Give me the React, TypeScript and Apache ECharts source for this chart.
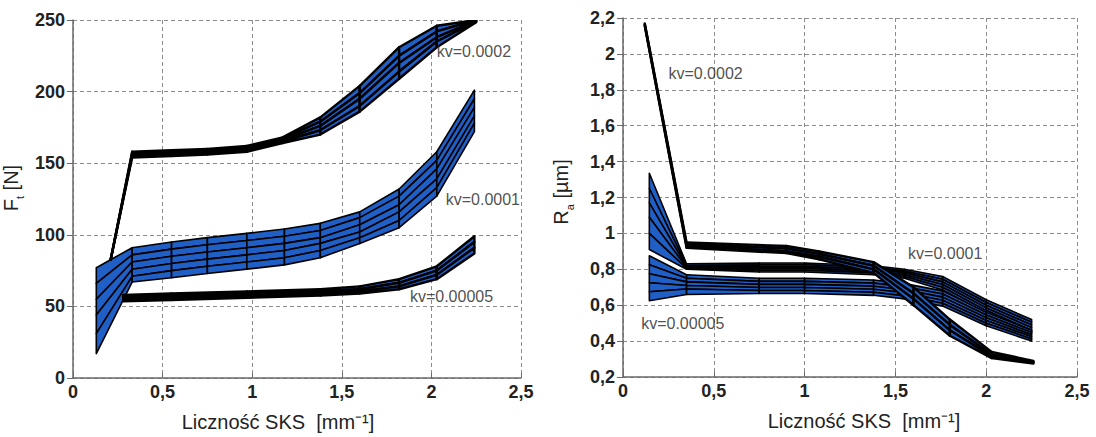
import React, { useEffect, useRef } from "react";
import * as echarts from "echarts";

// ---------- Left chart: F_t [N] vs Liczność SKS ----------
// kv = 0.0002 (left)
const lKv2X = [0.21, 0.33, 0.55, 0.75, 0.97, 1.17, 1.38, 1.6, 1.82, 2.03, 2.25];
const lKv2A = [82.5, 158, 159, 160, 162, 168, 182, 204, 231, 246, 250];
const lKv2B = [82.5, 157, 158, 159, 161, 167, 179, 199, 225, 242, 250];
const lKv2C = [82.5, 156, 157, 158, 160, 166, 176, 195, 220, 238, 249.5];
const lKv2D = [82.5, 155, 156, 157, 159, 165, 173, 190, 214, 235, 249];
const lKv2E = [82.5, 154, 155, 156, 158, 164, 170, 186, 209, 231, 248.5];

// kv = 0.0001 (left)
const lKv1X = [0.13, 0.33, 0.55, 0.75, 0.97, 1.18, 1.38, 1.6, 1.82, 2.03, 2.24];
const lKv1L1 = [77, 91, 95, 98, 101, 104, 108, 116, 132, 158, 201];
const lKv1L2 = [66, 86, 90, 93, 96, 99, 103, 112, 127, 152, 195];
const lKv1L3 = [55, 81, 85, 88, 91, 94, 98, 107, 121, 146, 189];
const lKv1L4 = [44, 76, 80, 83, 86, 89, 94, 102, 116, 139, 183];
const lKv1L5 = [31, 71, 75, 78, 81, 84, 89, 98, 110, 133, 178];
const lKv1L6 = [17, 67, 70, 73, 76, 79, 84, 94, 105, 127, 172];

// kv = 0.00005 (left)
const lKv5X = [0.28, 0.55, 0.97, 1.38, 1.6, 1.82, 2.03, 2.24];
const lKv5A = [58, 59, 60.5, 62, 64, 69, 78, 99];
const lKv5B = [56.5, 57.5, 59, 60.5, 62, 66.5, 75, 95];
const lKv5C = [55, 56, 57.5, 59, 60.5, 64, 72, 91];
const lKv5D = [53.5, 54.5, 56, 57.5, 59, 62, 69, 87];

// ---------- Right chart: R_a [µm] vs Liczność SKS ----------
// kv = 0.0002 (right)
const rKv2X = [0.12, 0.35, 0.9, 1.08, 1.38, 1.6, 1.8, 2.03, 2.26];
const rKv2A = [2.17, 0.95, 0.93, 0.9, 0.84, 0.7, 0.52, 0.34, 0.29];
const rKv2B = [2.165, 0.94, 0.915, 0.885, 0.82, 0.665, 0.49, 0.325, 0.285];
const rKv2C = [2.16, 0.93, 0.9, 0.87, 0.8, 0.635, 0.46, 0.315, 0.28];
const rKv2D = [2.155, 0.92, 0.89, 0.855, 0.78, 0.6, 0.43, 0.305, 0.275];

// kv = 0.0001 (right)
const rKv1X = [0.145, 0.35, 0.75, 1.0, 1.38, 1.55, 1.76, 2.0, 2.25];
const rKv1L1 = [1.335, 0.83, 0.835, 0.835, 0.82, 0.8, 0.76, 0.63, 0.52];
const rKv1L2 = [1.25, 0.82, 0.825, 0.825, 0.81, 0.79, 0.745, 0.615, 0.505];
const rKv1L3 = [1.17, 0.815, 0.815, 0.815, 0.8, 0.78, 0.73, 0.6, 0.49];
const rKv1L4 = [1.09, 0.81, 0.805, 0.805, 0.79, 0.77, 0.715, 0.585, 0.475];
const rKv1L5 = [1.0, 0.805, 0.795, 0.795, 0.78, 0.76, 0.7, 0.57, 0.46];
const rKv1L6 = [0.91, 0.8, 0.785, 0.785, 0.77, 0.75, 0.685, 0.555, 0.445];

// kv = 0.00005 (right)
const rKv5X = [0.145, 0.35, 0.75, 1.0, 1.38, 1.55, 1.76, 2.0, 2.25];
const rKv5L1 = [0.875, 0.77, 0.75, 0.75, 0.74, 0.72, 0.68, 0.56, 0.46];
const rKv5L2 = [0.825, 0.75, 0.733, 0.733, 0.723, 0.703, 0.662, 0.545, 0.448];
const rKv5L3 = [0.775, 0.73, 0.716, 0.716, 0.706, 0.686, 0.645, 0.53, 0.436];
const rKv5L4 = [0.725, 0.71, 0.699, 0.699, 0.689, 0.669, 0.628, 0.515, 0.424];
const rKv5L5 = [0.675, 0.69, 0.682, 0.682, 0.672, 0.652, 0.611, 0.5, 0.412];
const rKv5L6 = [0.625, 0.66, 0.665, 0.665, 0.655, 0.635, 0.595, 0.485, 0.4];

// Band labels [x, y, text]
const leftLabels: [number, number, string][] = [
  [2.03, 228, "kv=0.0002"],
  [2.08, 125, "kv=0.0001"],
  [1.88, 57, "kv=0.00005"],
];
const rightLabels: [number, number, string][] = [
  [0.25, 1.89, "kv=0.0002"],
  [1.57, 0.89, "kv=0.0001"],
  [0.1, 0.5, "kv=0.00005"],
];

const BLUE = "#1f5fc6";
const FONT = "'Liberation Sans', Arial, sans-serif";
const TXT = "#222222";

function cells(xs: number[], lines: number[][]) {
  const rows: number[][] = [];
  for (let j = 0; j < lines.length - 1; j++) {
    const up = lines[j];
    const lo = lines[j + 1];
    for (let i = 0; i < xs.length - 1; i++) {
      rows.push([xs[i], xs[i + 1], up[i], up[i + 1], lo[i + 1], lo[i]]);
    }
  }
  return rows;
}

function makeRender(strokeWidth: number) {
  return function renderCell(_params: any, api: any) {
    const x0 = api.value(0);
    const x1 = api.value(1);
    const pts = [
      api.coord([x0, api.value(2)]),
      api.coord([x1, api.value(3)]),
      api.coord([x1, api.value(4)]),
      api.coord([x0, api.value(5)]),
    ];
    return {
      type: "polygon",
      shape: { points: pts },
      style: { fill: BLUE, stroke: "#000", lineWidth: strokeWidth, lineJoin: "round" },
    };
  };
}

function band(xs: number[], lines: number[][], axis: number, strokeWidth: number) {
  return {
    type: "custom",
    xAxisIndex: axis,
    yAxisIndex: axis,
    renderItem: makeRender(strokeWidth),
    data: cells(xs, lines),
    encode: { x: [0, 1], y: [2, 3, 4, 5] },
    clip: true,
    silent: true,
  };
}

function labelSeries(items: [number, number, string][], axis: number) {
  return {
    type: "scatter",
    xAxisIndex: axis,
    yAxisIndex: axis,
    symbolSize: 0,
    silent: true,
    data: items.map((d) => ({ value: [d[0], d[1]], name: d[2] })),
    label: {
      show: true,
      position: "right",
      distance: 0,
      formatter: (p: any) => p.name,
      fontFamily: FONT,
      fontSize: 16,
      color: TXT,
    },
  };
}

const fmt = (v: number) => String(Number(v.toFixed(2))).replace(".", ",");

function xAxisDef(idx: number, padding: number[]) {
  return {
    type: "value",
    gridIndex: idx,
    min: 0,
    max: 2.5,
    interval: 0.5,
    name: "Liczność SKS  [mm⁻¹]",
    nameLocation: "middle",
    nameGap: 34,
    nameTextStyle: { fontFamily: FONT, fontSize: 20, color: TXT, padding },
    axisLine: { show: true, onZero: false, lineStyle: { color: "#6a6a6a", width: 1.5 } },
    axisTick: { show: true, inside: true, length: 5, lineStyle: { color: "#6a6a6a" } },
    axisLabel: { formatter: fmt, fontFamily: FONT, fontSize: 18, fontWeight: "bold", color: TXT, margin: 5 },
    splitLine: { show: true, lineStyle: { color: "#8c8c8c", type: [4, 3], width: 1 } },
  };
}

function yAxisDef(idx: number, min: number, max: number, interval: number, name: string, padding: number[]) {
  return {
    type: "value",
    gridIndex: idx,
    min,
    max,
    interval,
    name,
    nameLocation: "middle",
    nameGap: 48,
    nameTextStyle: {
      fontFamily: FONT,
      fontSize: 20,
      color: TXT,
      padding,
      rich: {
        m: { fontFamily: FONT, fontSize: 20, color: TXT },
        s: { fontFamily: FONT, fontSize: 11, color: TXT, verticalAlign: "bottom", lineHeight: 28 },
      },
    },
    axisLine: { show: true, onZero: false, lineStyle: { color: "#6a6a6a", width: 1.5 } },
    axisTick: { show: true, inside: false, length: 6, lineStyle: { color: "#6a6a6a" } },
    axisLabel: { formatter: fmt, fontFamily: FONT, fontSize: 18, fontWeight: "bold", color: TXT, margin: 8 },
    splitLine: { show: true, lineStyle: { color: "#8c8c8c", type: [4, 3], width: 1 } },
  };
}

export default function App() {
  const ref = useRef<HTMLDivElement>(null);
  useEffect(() => {
    if (!ref.current) return;
    const chart = echarts.init(ref.current, null, { renderer: "svg" });
    chart.setOption({
      animation: false,
      backgroundColor: "#ffffff",
      grid: [
        { left: 73, right: 575, top: 20, bottom: 59, containLabel: false },
        { left: 623, right: 19, top: 18, bottom: 60, containLabel: false },
      ],
      xAxis: [xAxisDef(0, [0, 38, 0, 0]), xAxisDef(1, [0, 0, 0, 28])],
      yAxis: [
        yAxisDef(0, 0, 250, 50, "{m|F}{s|t}{m| [N]}", [0, 0, 0, 22]),
        yAxisDef(1, 0.2, 2.2, 0.2, "{m|R}{s|a}{m| [µm]}", [0, 0, 0, 11]),
      ],
      series: [
        band(lKv1X, [lKv1L1, lKv1L2, lKv1L3, lKv1L4, lKv1L5, lKv1L6], 0, 1.6),
        band(lKv5X, [lKv5A, lKv5B, lKv5C, lKv5D], 0, 2.4),
        band(lKv2X, [lKv2A, lKv2B, lKv2C, lKv2D, lKv2E], 0, 2.4),
        labelSeries(leftLabels, 0),
        band(rKv1X, [rKv1L1, rKv1L2, rKv1L3, rKv1L4, rKv1L5, rKv1L6], 1, 1.6),
        band(rKv5X, [rKv5L1, rKv5L2, rKv5L3, rKv5L4, rKv5L5, rKv5L6], 1, 1.6),
        band(rKv2X, [rKv2A, rKv2B, rKv2C, rKv2D], 1, 2.4),
        labelSeries(rightLabels, 1),
      ],
    });
    return () => chart.dispose();
  }, []);
  return (
    <div
      ref={ref}
      style={{ position: "absolute", left: 0, top: 0, width: 1096, height: 437, background: "#fff" }}
    />
  );
}
